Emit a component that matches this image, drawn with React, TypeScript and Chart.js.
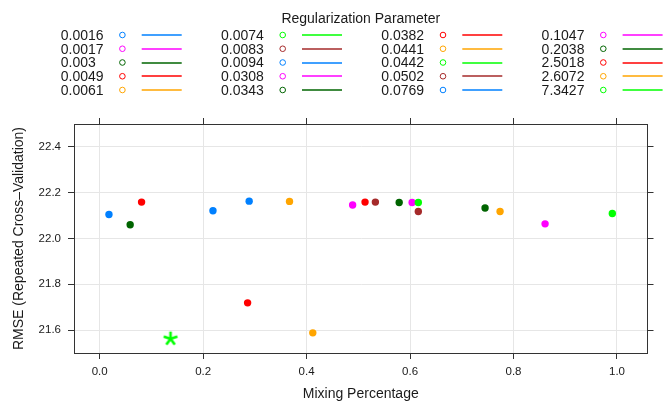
import React, { useEffect, useRef } from 'react';
import { Chart, registerables } from 'chart.js';

Chart.register(...registerables);

// ---- data ----
const lambdaLabels = ['0.0016', '0.0017', '0.003', '0.0049', '0.0061', '0.0074', '0.0083', '0.0094', '0.0308', '0.0343', '0.0382', '0.0441', '0.0442', '0.0502', '0.0769', '0.1047', '0.2038', '2.5018', '2.6072', '7.3427'];
const mixingPct = [0.018, 0.861, 0.059, 0.286, 0.412, 0.137, 0.616, 0.219, 0.489, 0.745, 0.081, 0.774, 0.991, 0.533, 0.289, 0.604, 0.579, 0.513, 0.367, 0.616];
const rmse = [22.105, 22.064, 22.06, 21.719, 21.588, 21.562, 22.118, 22.121, 22.146, 22.133, 22.159, 22.118, 22.109, 22.159, 22.163, 22.157, 22.157, 22.159, 22.162, 22.157];
const palette = ['#0080ff', '#ff00ff', '#006400', '#ff0000', '#ffa500', '#00ff00', '#a52a2a'];
const bestIndex = 5;
const xTicks = [0, 0.2, 0.4, 0.6, 0.8, 1.0];
const yTicks = [21.6, 21.8, 22.0, 22.2, 22.4];
const xRange = [-0.0496, 1.059];
const yRange = [21.5, 22.5];
const legendTitle = 'Regularization Parameter';
const xTitle = 'Mixing Percentage';
const yTitle = 'RMSE (Repeated Cross\u2013Validation)';

const FONT = '"Liberation Sans", Arial, Helvetica, sans-serif';
const AXIS = '#333333';
const GRID = '#e6e6e6';
const TEXT = '#1a1a1a';

function makeStar(color: string): HTMLCanvasElement {
  const c = document.createElement('canvas');
  c.width = 20;
  c.height = 20;
  const ctx = c.getContext('2d')!;
  ctx.strokeStyle = color;
  ctx.lineWidth = 2.6;
  ctx.lineCap = 'butt';
  for (let k = 0; k < 5; k++) {
    const a = -Math.PI / 2 + (k * 2 * Math.PI) / 5;
    ctx.beginPath();
    ctx.moveTo(10, 10);
    ctx.lineTo(10 + 7.2 * Math.cos(a), 10 + 7.2 * Math.sin(a));
    ctx.stroke();
  }
  return c;
}

const legendPlugin = {
  id: 'latticeLegend',
  afterDraw(chart: any) {
    const ctx = chart.ctx as CanvasRenderingContext2D;
    const area = chart.chartArea;
    ctx.save();
    ctx.fillStyle = TEXT;
    ctx.font = `14px ${FONT}`;
    ctx.textAlign = 'center';
    ctx.textBaseline = 'alphabetic';
    ctx.fillText(legendTitle, (area.left + area.right) / 2, 23.3);
    ctx.textAlign = 'left';
    const rows = 5;
    lambdaLabels.forEach((lab, i) => {
      const col = Math.floor(i / rows);
      const row = i % rows;
      const x0 = 60.7 + col * 160.3;
      const cy = 35 + row * 13.75;
      const color = palette[i % palette.length];
      ctx.fillStyle = TEXT;
      ctx.fillText(lab, x0, cy + 4.8);
      ctx.strokeStyle = color;
      ctx.lineWidth = 1;
      ctx.beginPath();
      ctx.arc(x0 + 61.7, cy, 2.8, 0, Math.PI * 2);
      ctx.stroke();
      ctx.lineWidth = 1.3;
      ctx.beginPath();
      const ly = Math.round(cy);
      ctx.moveTo(x0 + 81, ly);
      ctx.lineTo(x0 + 121, ly);
      ctx.stroke();
    });
    ctx.restore();
  },
};

export default function App() {
  const ref = useRef<HTMLCanvasElement | null>(null);

  useEffect(() => {
    if (!ref.current) return;
    const star = makeStar(palette[bestIndex % palette.length]);
    const datasets = lambdaLabels.map((lab, i) => ({
      label: lab,
      data: [{ x: mixingPct[i], y: rmse[i] }],
      backgroundColor: palette[i % palette.length],
      borderColor: palette[i % palette.length],
      borderWidth: 0,
      pointRadius: 3.7,
      pointStyle: i === bestIndex ? (star as any) : 'circle',
      showLine: false,
      order: lambdaLabels.length - i,
    }));

    const setX = (s: any) => {
      s.ticks = xTicks.map((v) => ({ value: v }));
    };
    const setY = (s: any) => {
      s.ticks = yTicks.map((v) => ({ value: v }));
    };

    const chart = new Chart(ref.current, {
      type: 'scatter',
      data: { datasets: datasets as any },
      plugins: [legendPlugin],
      options: {
        animation: false,
        responsive: false,
        devicePixelRatio: 1,
        events: [],
        layout: { padding: { top: 118, left: 0, right: 9.5, bottom: 0 } },
        plugins: { legend: { display: false }, tooltip: { enabled: false } },
        scales: {
          x: {
            type: 'linear',
            position: 'bottom',
            min: xRange[0],
            max: xRange[1],
            afterBuildTicks: setX,
            afterFit: (s: any) => {
              s.height = 52;
            },
            grid: { color: GRID, tickColor: AXIS, tickLength: 6, lineWidth: 1 },
            border: { color: AXIS, width: 1 },
            ticks: {
              callback: (v: any) => Number(v).toFixed(1),
              color: TEXT,
              font: { size: 11.5, family: FONT },
              padding: 6,
              maxRotation: 0,
              autoSkip: false,
            },
            title: {
              display: true,
              text: xTitle,
              color: TEXT,
              font: { size: 14, family: FONT },
              padding: { top: 0, bottom: 2.6 },
            },
          },
          x2: {
            type: 'linear',
            position: 'top',
            min: xRange[0],
            max: xRange[1],
            afterBuildTicks: setX,
            afterFit: (s: any) => {
              s.height = 6;
            },
            grid: { drawOnChartArea: false, tickColor: AXIS, tickLength: 6 },
            border: { color: AXIS, width: 1 },
            ticks: { display: false },
          },
          y: {
            type: 'linear',
            position: 'left',
            min: yRange[0],
            max: yRange[1],
            afterBuildTicks: setY,
            afterFit: (s: any) => {
              s.width = 74;
            },
            grid: { color: GRID, tickColor: AXIS, tickLength: 6, lineWidth: 1 },
            border: { color: AXIS, width: 1 },
            ticks: {
              callback: (v: any) => Number(v).toFixed(1),
              color: TEXT,
              font: { size: 11.5, family: FONT },
              padding: 7,
            },
            title: {
              display: true,
              text: yTitle,
              color: TEXT,
              font: { size: 14, family: FONT },
              padding: { top: 11, bottom: 0 },
            },
          },
          y2: {
            type: 'linear',
            position: 'right',
            min: yRange[0],
            max: yRange[1],
            afterBuildTicks: setY,
            afterFit: (s: any) => {
              s.width = 6;
            },
            grid: { drawOnChartArea: false, tickColor: AXIS, tickLength: 6 },
            border: { color: AXIS, width: 1 },
            ticks: { display: false },
          },
        },
      } as any,
    });
    return () => chart.destroy();
  }, []);

  return (
    <div style={{ position: 'absolute', left: 0, top: 0, width: 663, height: 405, background: '#fff' }}>
      <canvas ref={ref} width={663} height={405} style={{ display: 'block', width: 663, height: 405 }} />
    </div>
  );
}
